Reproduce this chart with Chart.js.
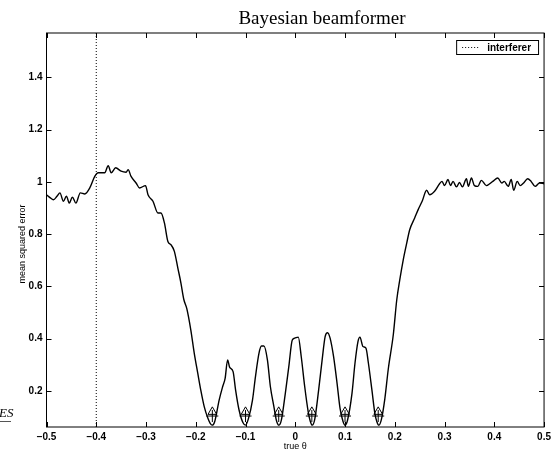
<!DOCTYPE html>
<html>
<head>
<meta charset="utf-8">
<script src="https://cdn.jsdelivr.net/npm/chart.js@4.4.1/dist/chart.umd.min.js"></script>
<style>
  body { margin: 0; background: #fff; }
  #chart { display: block; }
</style>
</head>
<body>
<canvas id="chart" width="555" height="452"></canvas>
<script>
// values
const theta = [
  -0.500, -0.493, -0.486, -0.479, -0.473, -0.466, -0.460, -0.454, -0.448, -0.441,
  -0.432, -0.423, -0.413, -0.403, -0.396, -0.383, -0.376, -0.370, -0.361, -0.350,
  -0.340, -0.336, -0.330, -0.320, -0.313, -0.301, -0.296, -0.286, -0.276, -0.270,
  -0.263, -0.256, -0.250, -0.243, -0.236, -0.230, -0.224, -0.218, -0.210, -0.203,
  -0.196, -0.190, -0.183, -0.176, -0.171, -0.167, -0.162, -0.153, -0.146, -0.141,
  -0.136, -0.132, -0.125, -0.120, -0.113, -0.105, -0.100, -0.094, -0.086, -0.080,
  -0.073, -0.068, -0.063, -0.056, -0.050, -0.043, -0.038, -0.033, -0.028, -0.020,
  -0.013, -0.006, -0.001, 0.006, 0.012, 0.019, 0.026, 0.030, 0.034, 0.039,
  0.047, 0.054, 0.060, 0.065, 0.070, 0.077, 0.084, 0.090, 0.096, 0.100,
  0.105, 0.114, 0.120, 0.126, 0.130, 0.136, 0.142, 0.147, 0.154, 0.160,
  0.164, 0.168, 0.173, 0.180, 0.187, 0.197, 0.204, 0.210, 0.217, 0.224,
  0.230, 0.240, 0.247, 0.255, 0.264, 0.270, 0.280, 0.290, 0.295, 0.300,
  0.307, 0.312, 0.317, 0.324, 0.330, 0.336, 0.344, 0.348, 0.354, 0.360,
  0.367, 0.374, 0.384, 0.397, 0.407, 0.415, 0.420, 0.428, 0.434, 0.439,
  0.446, 0.452, 0.459, 0.467, 0.474, 0.482, 0.491, 0.500
];
const mse = [
  0.951, 0.940, 0.932, 0.945, 0.958, 0.926, 0.945, 0.919, 0.942, 0.919,
  0.958, 0.954, 0.977, 1.021, 1.035, 1.035, 1.062, 1.035, 1.054, 1.041,
  1.037, 1.047, 1.021, 0.996, 0.977, 0.986, 0.951, 0.926, 0.881, 0.881,
  0.843, 0.772, 0.760, 0.734, 0.670, 0.615, 0.550, 0.515, 0.434, 0.344,
  0.268, 0.204, 0.140, 0.097, 0.076, 0.069, 0.082, 0.165, 0.216, 0.248,
  0.319, 0.291, 0.274, 0.204, 0.127, 0.078, 0.069, 0.095, 0.165, 0.255,
  0.344, 0.372, 0.372, 0.319, 0.216, 0.140, 0.088, 0.069, 0.088, 0.191,
  0.293, 0.395, 0.402, 0.406, 0.331, 0.216, 0.120, 0.085, 0.069, 0.090,
  0.204, 0.319, 0.408, 0.423, 0.402, 0.331, 0.229, 0.133, 0.083, 0.069,
  0.088, 0.191, 0.306, 0.389, 0.406, 0.370, 0.364, 0.306, 0.204, 0.114,
  0.082, 0.069, 0.090, 0.170, 0.285, 0.415, 0.549, 0.625, 0.702, 0.766,
  0.817, 0.862, 0.894, 0.926, 0.968, 0.951, 0.964, 0.993, 1.002, 0.986,
  1.009, 0.986, 1.002, 0.981, 0.998, 0.981, 1.012, 0.983, 1.015, 0.986,
  0.983, 1.006, 0.986, 1.002, 1.015, 0.996, 1.002, 0.983, 1.009, 0.968,
  1.002, 0.986, 0.996, 1.012, 1.002, 0.983, 0.996, 0.993
];
const targets = [-0.1667, -0.1, -0.0333, 0.0333, 0.1, 0.1667];
const targetMse = [0.12, 0.12, 0.12, 0.12, 0.12, 0.12];
const targetCrossMse = [0.104, 0.104, 0.104, 0.104, 0.104, 0.104];
const interferer = -0.4;
const yRange = [0.062, 1.57];
const xTicks = [-0.5, -0.4, -0.3, -0.2, -0.1, 0, 0.1, 0.2, 0.3, 0.4, 0.5];
const xTickLabels = ["\u22120.5", "\u22120.4", "\u22120.3", "\u22120.2", "\u22120.1", "0", "0.1", "0.2", "0.3", "0.4", "0.5"];
const yTicks = [0.2, 0.4, 0.6, 0.8, 1, 1.2, 1.4];
const yTickLabels = ["0.2", "0.4", "0.6", "0.8", "1", "1.2", "1.4"];

const sans = "'Liberation Sans', Arial, sans-serif";
const serif = "'Liberation Serif', 'Times New Roman', serif";

const curve = theta.map((t, i) => ({ x: t, y: mse[i] }));
const targetPts = targets.map((t, i) => ({ x: t, y: targetMse[i] }));
const crossPts = targets.map((t, i) => ({ x: t, y: targetCrossMse[i] }));

// matlab style box, inward ticks, titles, legend
const decor = {
  id: "decor",
  afterDraw(chart) {
    const ctx = chart.ctx;
    const a = chart.chartArea;
    const xs = chart.scales.x, ys = chart.scales.y;
    ctx.save();
    ctx.strokeStyle = "#000";
    ctx.lineWidth = 1;
    ctx.strokeRect(a.left, a.top, a.right - a.left, a.bottom - a.top);
    ctx.beginPath();
    xTicks.forEach((v) => {
      const px = Math.round(xs.getPixelForValue(v)) + 0.5;
      ctx.moveTo(px, a.bottom); ctx.lineTo(px, a.bottom - 5);
      ctx.moveTo(px, a.top); ctx.lineTo(px, a.top + 5);
    });
    yTicks.forEach((v) => {
      const py = Math.round(ys.getPixelForValue(v)) + 0.5;
      ctx.moveTo(a.left, py); ctx.lineTo(a.left + 5, py);
      ctx.moveTo(a.right, py); ctx.lineTo(a.right - 5, py);
    });
    ctx.stroke();

    ctx.fillStyle = "#000";
    ctx.font = "19px " + serif;
    ctx.textAlign = "center";
    ctx.textBaseline = "alphabetic";
    ctx.fillText("Bayesian beamformer", 322, 24);

    ctx.font = "9px " + sans;
    ctx.textBaseline = "middle";
    ctx.fillText("true \u03b8", (a.left + a.right) / 2, 447);
    ctx.save();
    ctx.translate(23, 244);
    ctx.rotate(-Math.PI / 2);
    ctx.fillText("mean squared error", 0, 0);
    ctx.restore();

    // legend
    const label = chart.data.datasets[1].label;
    ctx.font = "bold 10px " + sans;
    const tw = ctx.measureText(label).width;
    const bw = tw + 38, bh = 14;
    const bx = a.right - 6 - bw, by = a.top + 7;
    ctx.fillStyle = "#fff";
    ctx.fillRect(bx, by, bw, bh);
    ctx.strokeRect(bx + 0.5, by + 0.5, bw, bh);
    ctx.setLineDash([1, 2]);
    ctx.beginPath();
    ctx.moveTo(bx + 6, by + bh / 2 + 0.5);
    ctx.lineTo(bx + 24, by + bh / 2 + 0.5);
    ctx.stroke();
    ctx.setLineDash([]);
    ctx.fillStyle = "#000";
    ctx.textAlign = "left";
    ctx.fillText(label, bx + 31, by + bh / 2 + 1);

    // scan remnant at the left margin
    ctx.font = "italic 13px " + serif;
    ctx.textBaseline = "alphabetic";
    ctx.fillText("ES", -1, 417);
    ctx.strokeStyle = "#555";
    ctx.beginPath();
    ctx.moveTo(0, 421.5); ctx.lineTo(11, 421.5);
    ctx.stroke();
    ctx.restore();
  }
};

new Chart(document.getElementById("chart"), {
  type: "scatter",
  data: {
    datasets: [
      {
        label: "mse",
        data: curve,
        showLine: true,
        borderColor: "#000",
        borderWidth: 1.4,
        pointRadius: 0,
        cubicInterpolationMode: "monotone",
        order: 2
      },
      {
        label: "interferer",
        data: [{ x: interferer, y: yRange[0] }, { x: interferer, y: yRange[1] }],
        showLine: true,
        borderColor: "#000",
        borderWidth: 1,
        borderDash: [1, 2],
        pointRadius: 0,
        order: 3
      },
      {
        label: "targets",
        data: targetPts,
        pointStyle: "triangle",
        pointRadius: 5,
        borderColor: "#000",
        backgroundColor: "rgba(0,0,0,0)",
        borderWidth: 1,
        order: 1
      },
      {
        label: "targets+",
        data: crossPts,
        pointStyle: "cross",
        pointRadius: 6,
        borderColor: "#000",
        borderWidth: 1,
        order: 0
      }
    ]
  },
  options: {
    responsive: false,
    animation: false,
    layout: { padding: { top: 33, right: 8.5, left: 0, bottom: 0 } },
    plugins: { legend: { display: false }, tooltip: { enabled: false } },
    scales: {
      x: {
        type: "linear",
        min: -0.5,
        max: 0.5,
        grid: { display: false, drawTicks: false },
        border: { display: false },
        afterBuildTicks: (s) => { s.ticks = xTicks.map((v) => ({ value: v })); },
        afterFit: (s) => { s.height = 25; },
        ticks: {
          padding: 4,
          color: "#000",
          font: { family: sans, size: 10, weight: "bold" },
          maxRotation: 0,
          callback: (v, i) => xTickLabels[i]
        }
      },
      y: {
        min: yRange[0],
        max: yRange[1],
        grid: { display: false, drawTicks: false },
        border: { display: false },
        afterBuildTicks: (s) => { s.ticks = yTicks.map((v) => ({ value: v })); },
        afterFit: (s) => { s.width = 46.5; },
        ticks: {
          padding: 4,
          color: "#000",
          font: { family: sans, size: 10, weight: "bold" },
          callback: (v, i) => yTickLabels[i]
        }
      }
    }
  },
  plugins: [decor]
});
</script>
</body>
</html>
